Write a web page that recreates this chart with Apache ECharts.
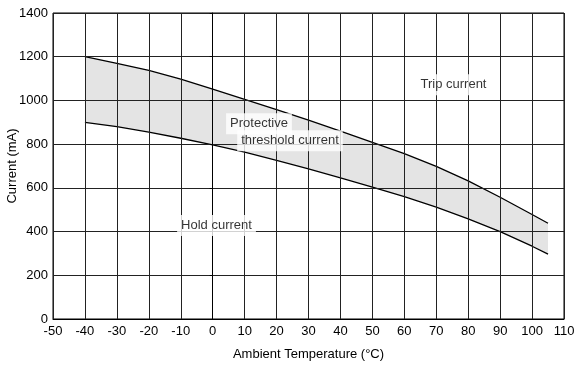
<!DOCTYPE html>
<html>
<head>
<meta charset="utf-8">
<script src="https://cdn.jsdelivr.net/npm/echarts@6/dist/echarts.min.js"></script>
<style>
  html, body { margin: 0; padding: 0; background: #fff; }
  #echart { width: 575px; height: 365px; }
</style>
</head>
<body>
<div id="echart"></div>
<script>
// temperatures (°C)
const temps = [-40, -30, -20, -10, 0, 10, 20, 30, 40, 50, 60, 70, 80, 90, 100, 105]
// trip current (mA)
const tripCurrent = [1200, 1170, 1137, 1097, 1052, 1005, 958, 910, 860, 808, 757, 698, 632, 557, 478, 438]
// hold current (mA)
const holdCurrent = [900, 880, 855, 827, 797, 763, 726, 687, 646, 603, 560, 512, 458, 400, 333, 297]

// text labels placed on the chart [temp, current, text]
const notes = [
  [75.4, 1072, 'Trip current'],
  [14.5, 893, 'Protective'],
  [24.2, 816, 'threshold current'],
  [1.2, 428, 'Hold current']
]

const font = 'Liberation Sans, Arial, sans-serif'

const tripData = temps.map((t, i) => [t, tripCurrent[i]])
const holdData = temps.map((t, i) => [t, holdCurrent[i]])

// grey band between the two curves
function renderBand(params, api) {
  const upper = temps.map((t, i) => api.coord([t, tripCurrent[i]]))
  const lower = temps.map((t, i) => api.coord([t, holdCurrent[i]])).reverse()
  return {
    type: 'polygon',
    shape: { points: upper.concat(lower) },
    style: { fill: '#e4e4e4' }
  }
}

const chart = echarts.init(document.getElementById('echart'))
chart.setOption({
  animation: false,
  grid: {
    left: 53,
    right: 11,
    top: 13,
    bottom: 46,
    outerBoundsMode: 'none',
    containLabel: false,
    show: true,
    borderColor: '#000',
    borderWidth: 1
  },
  xAxis: {
    type: 'value',
    min: -50,
    max: 110,
    interval: 10,
    z: 3,
    name: 'Ambient Temperature (°C)',
    nameLocation: 'middle',
    nameGap: 29,
    nameMoveOverlap: false,
    nameTextStyle: { color: '#000', fontSize: 13, fontFamily: font },
    axisLine: { lineStyle: { color: '#000', width: 1 } },
    axisTick: { show: false },
    axisLabel: { color: '#000', fontSize: 13, fontFamily: font, margin: 6 },
    splitLine: { show: true, lineStyle: { color: '#222', width: 1 } }
  },
  yAxis: {
    type: 'value',
    min: 0,
    max: 1400,
    interval: 200,
    z: 3,
    name: 'Current (mA)',
    nameLocation: 'middle',
    nameGap: 34,
    nameMoveOverlap: false,
    nameRotate: 90,
    nameTextStyle: { color: '#000', fontSize: 13, fontFamily: font },
    axisLine: { show: true, lineStyle: { color: '#000', width: 1 } },
    axisTick: { show: true, length: 3, lineStyle: { color: '#000' } },
    axisLabel: { color: '#000', fontSize: 13, fontFamily: font, margin: 5, formatter: v => String(v) },
    splitLine: { show: true, lineStyle: { color: '#222', width: 1 } }
  },
  series: [
    {
      type: 'custom',
      renderItem: renderBand,
      data: [0],
      silent: true,
      z: 1
    },
    {
      name: 'Trip current',
      type: 'line',
      data: tripData,
      symbol: 'none',
      lineStyle: { color: '#000', width: 1.3 },
      z: 2
    },
    {
      name: 'Hold current',
      type: 'line',
      data: holdData,
      symbol: 'none',
      lineStyle: { color: '#000', width: 1.3 },
      z: 2
    },
    {
      type: 'scatter',
      symbolSize: 0,
      z: 5,
      data: notes.map(n => ({ value: [n[0], n[1]], name: n[2] })),
      label: {
        show: true,
        position: 'inside',
        formatter: '{b}',
        color: '#000',
        fontSize: 13,
        fontFamily: font,
        backgroundColor: '#fff',
        padding: [4, 4]
      },
      silent: true
    }
  ]
})
</script>
</body>
</html>
